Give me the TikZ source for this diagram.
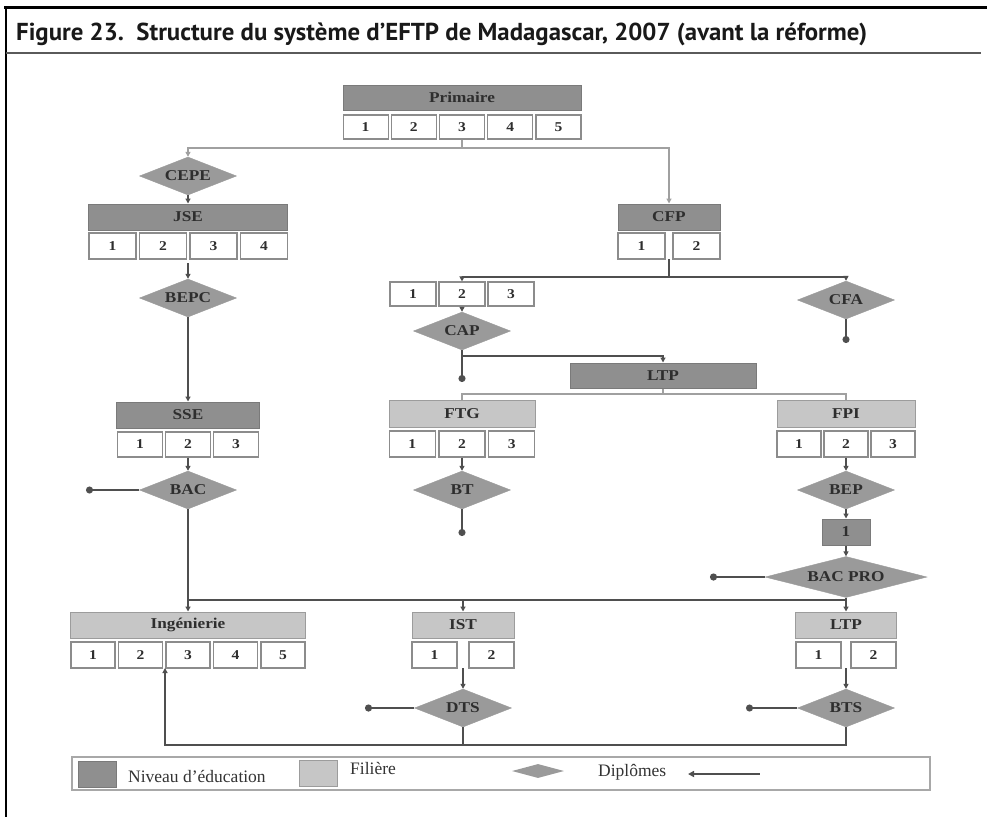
\documentclass[tikz,border=0pt]{standalone}
\usepackage{fontspec}
\setmainfont{Liberation Serif}
\newfontfamily\titlefont{PT Sans}
\newfontfamily\labfont{Liberation Serif}[FakeStretch=1.15]
\usetikzlibrary{shapes.geometric,arrows.meta}

\definecolor{lvlfill}{HTML}{8F8F8F}
\definecolor{lvlline}{HTML}{7A7A7A}
\definecolor{filfill}{HTML}{C6C6C6}
\definecolor{filline}{HTML}{9C9C9C}
\definecolor{cellline}{HTML}{8C8C8C}
\definecolor{diafill}{HTML}{9A9A9A}
\definecolor{connc}{HTML}{4F4F4F}
\definecolor{lightc}{HTML}{A0A0A0}
\definecolor{rulec}{HTML}{5A5A5A}
\definecolor{labc}{HTML}{2E2E2E}
\definecolor{legline}{HTML}{A8A8A8}

\tikzset{
  boxlabel/.style={font=\labfont\bfseries\fontsize{15}{16}\selectfont, text=labc},
  lvl/.style={draw=lvlline, fill=lvlfill, line width=1pt, inner sep=0pt, boxlabel},
  fil/.style={draw=filline, fill=filfill, line width=1pt, inner sep=0pt, boxlabel},
  cell/.style={draw=cellline, fill=white, line width=1.2pt, inner sep=0pt,
    font=\labfont\bfseries\fontsize{13.5}{14}\selectfont, text=labc},
  dipl/.style={diamond, aspect=2.5, fill=diafill, draw=diafill, inner sep=0pt,
    minimum width=97pt, minimum height=38pt, boxlabel},
  conn/.style={draw=connc, line width=1.6pt},
  thinconn/.style={draw=lightc, line width=1.4pt},
  busline/.style={draw=lightc, line width=2.6pt},
  tip/.style={-{Triangle[length=5pt,width=5pt]}},
  exitend/.style={-{Circle[length=7pt]}},
  legtext/.style={anchor=west, inner sep=0pt, font=\fontsize{17.5}{18}\selectfont, text=black!80},
}

\begin{document}
\begin{tikzpicture}[x=1pt,y=-1pt]
\useasboundingbox (0,0) rectangle (987,817);
\fill[white] (0,0) rectangle (987,817);

% frame and title
\draw[black, line width=3pt] (4,7) -- (987,7);
\draw[black, line width=2.6pt] (6,7) -- (6,817);
\draw[rulec, line width=2.3pt] (6,53) -- (981,53);
\node[anchor=base west, inner sep=0pt, text=black!90] (title) at (16,40)
  {\resizebox{851pt}{\height}{\titlefont\bfseries\fontsize{24.5}{26}\selectfont Figure 23.\ \ Structure du système d’EFTP de Madagascar, 2007 (avant la réforme)}};

% ---- Primaire
\node[lvl, minimum width=238pt, minimum height=25pt] (prim) at (462,97.5) {Primaire};
\node[cell, minimum width=45pt, minimum height=24pt] (p1) at (365.6,127) {1};
\node[cell, minimum width=45pt, minimum height=24pt] (p2) at (413.8,127) {2};
\node[cell, minimum width=45pt, minimum height=24pt] (p3) at (462,127) {3};
\node[cell, minimum width=45pt, minimum height=24pt] (p4) at (510.2,127) {4};
\node[cell, minimum width=45pt, minimum height=24pt] (p5) at (558.4,127) {5};

% ---- left branch: JSE / SSE
\node[dipl] (cepe) at (188,176) {CEPE};
\node[lvl, minimum width=199pt, minimum height=26pt] (jse) at (188,217) {JSE};
\node[cell, minimum width=47pt, minimum height=26pt] (j1) at (112.5,246) {1};
\node[cell, minimum width=47pt, minimum height=26pt] (j2) at (163,246) {2};
\node[cell, minimum width=47pt, minimum height=26pt] (j3) at (213.5,246) {3};
\node[cell, minimum width=47pt, minimum height=26pt] (j4) at (264,246) {4};
\node[dipl] (bepc) at (188,298) {BEPC};
\node[lvl, minimum width=143pt, minimum height=26pt] (sse) at (188,415) {SSE};
\node[cell, minimum width=45pt, minimum height=25pt] (s1) at (140,444.5) {1};
\node[cell, minimum width=45pt, minimum height=25pt] (s2) at (188,444.5) {2};
\node[cell, minimum width=45pt, minimum height=25pt] (s3) at (236,444.5) {3};
\node[dipl] (bac) at (188,490) {BAC};

% ---- CFP branch
\node[lvl, minimum width=102pt, minimum height=26pt] (cfp) at (669,217) {CFP};
\node[cell, minimum width=47pt, minimum height=26pt] (c1) at (641.5,246) {1};
\node[cell, minimum width=47pt, minimum height=26pt] (c2) at (696.5,246) {2};
\node[cell, minimum width=46pt, minimum height=24pt] (m1) at (413,294) {1};
\node[cell, minimum width=46pt, minimum height=24pt] (m2) at (462,294) {2};
\node[cell, minimum width=46pt, minimum height=24pt] (m3) at (511,294) {3};
\node[dipl] (cfa) at (846,300) {CFA};
\node[dipl] (cap) at (462,331) {CAP};
\node[lvl, minimum width=186pt, minimum height=25pt] (ltp) at (663,375.5) {LTP};

% ---- FTG / FPI
\node[fil, minimum width=146pt, minimum height=27pt] (ftg) at (462,413.5) {FTG};
\node[cell, minimum width=46pt, minimum height=26pt] (f1) at (412.3,444) {1};
\node[cell, minimum width=46pt, minimum height=26pt] (f2) at (462,444) {2};
\node[cell, minimum width=46pt, minimum height=26pt] (f3) at (511.7,444) {3};
\node[dipl] (bt) at (462,490) {BT};
\node[fil, minimum width=138pt, minimum height=27pt] (fpi) at (846,413.5) {FPI};
\node[cell, minimum width=44pt, minimum height=26pt] (g1) at (799,444) {1};
\node[cell, minimum width=44pt, minimum height=26pt] (g2) at (846,444) {2};
\node[cell, minimum width=44pt, minimum height=26pt] (g3) at (893,444) {3};
\node[dipl] (bep) at (846,490) {BEP};
\node[lvl, minimum width=48pt, minimum height=26pt] (one) at (846,532) {1};
\node[dipl, minimum width=162pt, minimum height=40pt] (bacpro) at (846,577) {BAC PRO};

% ---- higher education
\node[fil, minimum width=235pt, minimum height=26pt] (ing) at (188,625) {Ingénierie};
\node[cell, minimum width=44pt, minimum height=26pt] (i1) at (93,655) {1};
\node[cell, minimum width=44pt, minimum height=26pt] (i2) at (140.5,655) {2};
\node[cell, minimum width=44pt, minimum height=26pt] (i3) at (188,655) {3};
\node[cell, minimum width=44pt, minimum height=26pt] (i4) at (235.5,655) {4};
\node[cell, minimum width=44pt, minimum height=26pt] (i5) at (283,655) {5};
\node[fil, minimum width=102pt, minimum height=26pt] (ist) at (463,625) {IST};
\node[cell, minimum width=45pt, minimum height=26pt] (t1) at (434.5,655) {1};
\node[cell, minimum width=45pt, minimum height=26pt] (t2) at (491.5,655) {2};
\node[fil, minimum width=101pt, minimum height=26pt] (ltpb) at (846,625) {LTP};
\node[cell, minimum width=45pt, minimum height=26pt] (l1) at (818.5,655) {1};
\node[cell, minimum width=45pt, minimum height=26pt] (l2) at (873.5,655) {2};
\node[dipl] (dts) at (463,708) {DTS};
\node[dipl] (bts) at (846,708) {BTS};

% ---- junctions and free ends
\coordinate (pj) at (462,148);
\coordinate (jgap) at (188,263);
\coordinate (cgap) at (669,259);
\coordinate (cj) at (669,277);
\coordinate (capj) at (462,356);
\coordinate (ltpj) at (663,394);
\coordinate (busL) at (188,600);
\coordinate (busR) at (846,600);
\coordinate (tgap) at (463,668);
\coordinate (lgap) at (846,668);
\coordinate (igap) at (165,668);
\coordinate (botL) at (165,745);
\coordinate (dotbac) at (86,490);
\coordinate (dotcfa) at (846,343);
\coordinate (dotcap) at (462,382);
\coordinate (dotbt) at (462,536);
\coordinate (dotbacpro) at (710,577);
\coordinate (dotdts) at (365,708);
\coordinate (dotbts) at (746,708);

% ---- connectors
\draw[busline] (p3.south) -- (pj);
\draw[busline, tip] (pj) -| (cepe.north);
\draw[busline, tip] (pj) -| (cfp.north);
\draw[conn, tip] (cepe.south) -- (jse.north);
\draw[conn, tip] (jgap) -- (bepc.north);
\draw[conn, tip] (bepc.south) -- (sse.north);
\draw[conn, tip] (s2.south) -- (bac.north);
\draw[conn, exitend] (bac.west) -- (dotbac);
\draw[conn] (bac.south) -- (busL) -- (busR);
\draw[conn, tip] (busL) -- (ing.north);
\draw[conn, tip] (ist.north |- busL) -- (ist.north);

\draw[conn] (cgap) -- (cj);
\draw[conn, tip] (cj) -| (m2.north);
\draw[conn, tip] (cj) -| (cfa.north);
\draw[conn, exitend] (cfa.south) -- (dotcfa);
\draw[conn, tip] (m2.south) -- (cap.north);
\draw[conn, exitend] (cap.south) -- (dotcap);
\draw[conn, tip] (capj) -| (ltp.north);
\draw[thinconn] (ltp.south) -- (ltpj);
\draw[thinconn] (ltpj) -| (ftg.north);
\draw[thinconn] (ltpj) -| (fpi.north);

\draw[conn, tip] (f2.south) -- (bt.north);
\draw[conn, exitend] (bt.south) -- (dotbt);
\draw[conn, tip] (g2.south) -- (bep.north);
\draw[conn, tip] (bep.south) -- (one.north);
\draw[conn, tip] (one.south) -- (bacpro.north);
\draw[conn, line width=2.4pt, exitend] (bacpro.west) -- (dotbacpro);
\draw[conn, tip] (bacpro.south) -- (ltpb.north);

\draw[conn, tip] (tgap) -- (dts.north);
\draw[conn, tip] (lgap) -- (bts.north);
\draw[conn, line width=2.4pt, exitend] (dts.west) -- (dotdts);
\draw[conn, exitend] (bts.west) -- (dotbts);
\draw[conn, line width=2pt] (dts.south) -- (dts.south |- botL);
\draw[conn, line width=2pt, tip] (bts.south) |- (botL) -- (igap);

% ---- legend
\node[draw=legline, fill=white, line width=1.8pt, minimum width=858pt, minimum height=33pt, inner sep=0pt] (legend) at (501,773.5) {};
\node[fill=lvlfill, draw=lvlline, line width=0.8pt, minimum width=38pt, minimum height=26pt, inner sep=0pt] (leglvl) at (97,774) {};
\node[legtext] (leglvltext) at (128,776) {Niveau d’éducation};
\node[fill=filfill, draw=filline, line width=0.8pt, minimum width=38pt, minimum height=26pt, inner sep=0pt] (legfil) at (318,773) {};
\node[legtext] (legfiltext) at (350,768) {Filière};
\node[diamond, aspect=3.5, fill=diafill, inner sep=0pt, minimum width=52pt, minimum height=14pt] (legdia) at (538,771) {};
\node[legtext] (legdiatext) at (598,772) {Diplômes};
\coordinate (legarL) at (688,774);
\coordinate (legarR) at (760,774);
\draw[conn, line width=2.2pt, {Triangle[length=6pt,width=6pt]}-] (legarL) -- (legarR);
\end{tikzpicture}
\end{document}
